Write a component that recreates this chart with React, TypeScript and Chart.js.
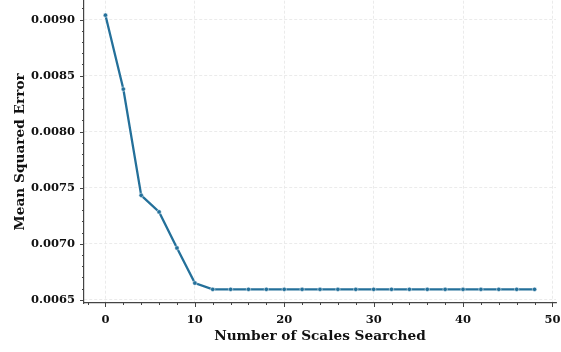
import React, { useEffect, useRef } from "react";
import { Chart, registerables } from "chart.js";

Chart.register(...registerables);

const scalesSearched = [0, 2, 4, 6, 8, 10, 12, 14, 16, 18, 20, 22, 24, 26, 28, 30, 32, 34, 36, 38, 40, 42, 44, 46, 48];
const mseValues = [
  0.00904, 0.00838, 0.007432, 0.007284, 0.006962, 0.006649, 0.006593, 0.006593, 0.006593,
  0.006593, 0.006593, 0.006593, 0.006593, 0.006593, 0.006593, 0.006593, 0.006593, 0.006593,
  0.006593, 0.006593, 0.006593, 0.006593, 0.006593, 0.006593, 0.006593,
];
const xMajorTicks = [0, 10, 20, 30, 40, 50];
const xMinorTicks = [-2, 2, 4, 6, 8, 12, 14, 16, 18, 22, 24, 26, 28, 32, 34, 36, 38, 42, 44, 46, 48];
const yMajorTicks = [0.0065, 0.007, 0.0075, 0.008, 0.0085, 0.009];
const yMinorTicks = [
  0.0066, 0.0067, 0.0068, 0.0069, 0.0071, 0.0072, 0.0073, 0.0074, 0.0076, 0.0077, 0.0078, 0.0079,
  0.0081, 0.0082, 0.0083, 0.0084, 0.0086, 0.0087, 0.0088, 0.0089, 0.0091,
];

const FONT = "'DejaVu Serif', serif";
const AXIS_COLOR = "#444444";
const LINE_COLOR = "#24709a";

const tickMarksPlugin = {
  id: "tickMarks",
  afterDraw(chart: any) {
    const ctx = chart.ctx;
    const xs = chart.scales.x;
    const ys = chart.scales.y;
    const area = chart.chartArea;
    ctx.save();
    ctx.strokeStyle = AXIS_COLOR;
    ctx.lineWidth = 1;
    const drawX = (vals: number[], len: number) => {
      vals.forEach((v) => {
        if (v < xs.min || v > xs.max) return;
        const px = Math.round(xs.getPixelForValue(v)) + 0.5;
        ctx.beginPath();
        ctx.moveTo(px, area.bottom);
        ctx.lineTo(px, area.bottom + len);
        ctx.stroke();
      });
    };
    const drawY = (vals: number[], len: number) => {
      vals.forEach((v) => {
        if (v < ys.min || v > ys.max) return;
        const py = Math.round(ys.getPixelForValue(v)) + 0.5;
        ctx.beginPath();
        ctx.moveTo(area.left, py);
        ctx.lineTo(area.left - len, py);
        ctx.stroke();
      });
    };
    drawX(xMajorTicks, 4);
    drawX(xMinorTicks, 2);
    drawY(yMajorTicks, 4);
    drawY(yMinorTicks, 2);
    ctx.restore();
  },
};

export default function App() {
  const canvasRef = useRef<HTMLCanvasElement | null>(null);

  useEffect(() => {
    document.body.style.margin = "0";
    const canvas = canvasRef.current;
    if (!canvas) return;
    const chart = new Chart(canvas, {
      type: "line",
      data: {
        datasets: [
          {
            data: scalesSearched.map((x, i) => ({ x, y: mseValues[i] })),
            borderColor: LINE_COLOR,
            backgroundColor: LINE_COLOR,
            borderWidth: 2.3,
            pointRadius: 2.2,
            pointBorderWidth: 0.5,
            pointBorderColor: "#ffffff",
            pointBackgroundColor: LINE_COLOR,
            tension: 0,
          },
        ],
      },
      options: {
        animation: false,
        responsive: false,
        maintainAspectRatio: false,
        layout: { autoPadding: false, padding: { top: 0.7, right: 5, left: 0, bottom: 0 } },
        plugins: {
          legend: { display: false },
          tooltip: { enabled: false },
        },
        scales: {
          x: {
            type: "linear",
            min: -2.4,
            max: 50.4,
            afterBuildTicks: (scale: any) => {
              scale.ticks = xMajorTicks.map((v) => ({ value: v }));
            },
            afterFit: (scale: any) => {
              scale.height = 49;
              scale.paddingLeft = 0;
              scale.paddingRight = 0;
            },
            ticks: {
              font: { family: FONT, weight: "bold", size: 11.5 },
              color: "#111111",
              padding: 10,
              maxRotation: 0,
              autoSkip: false,
              callback: (v: any) => String(v),
            },
            grid: {
              color: "#e6e6e6",
              lineWidth: 0.8,
              drawTicks: false,
            },
            border: { color: AXIS_COLOR, width: 1.2, dash: [3, 2] },
            title: {
              display: true,
              text: "Number of Scales Searched",
              font: { family: FONT, weight: "bold", size: 13.7 },
              color: "#111111",
              padding: { top: 0, bottom: 7 },
            },
          },
          y: {
            type: "linear",
            min: 0.006471,
            max: 0.009169,
            afterBuildTicks: (scale: any) => {
              scale.ticks = yMajorTicks.map((v) => ({ value: v }));
            },
            afterFit: (scale: any) => {
              scale.width = 84;
              scale.paddingTop = 0;
              scale.paddingBottom = 0;
            },
            ticks: {
              font: { family: FONT, weight: "bold", size: 11.5 },
              color: "#111111",
              padding: 9,
              autoSkip: false,
              callback: (v: any) => Number(v).toFixed(4),
            },
            grid: {
              color: "#e6e6e6",
              lineWidth: 0.8,
              drawTicks: false,
            },
            border: { color: AXIS_COLOR, width: 1.2, dash: [3, 2] },
            title: {
              display: true,
              text: "Mean Squared Error",
              font: { family: FONT, weight: "bold", size: 13.7 },
              color: "#111111",
              padding: { top: 12, bottom: 0 },
            },
          },
        },
      },
      plugins: [tickMarksPlugin],
    });
    return () => chart.destroy();
  }, []);

  return (
    <div style={{ position: "absolute", left: 0, top: 0, width: 561, height: 352, background: "#ffffff" }}>
      <canvas ref={canvasRef} width={561} height={352} style={{ width: 561, height: 352 }} />
    </div>
  );
}
